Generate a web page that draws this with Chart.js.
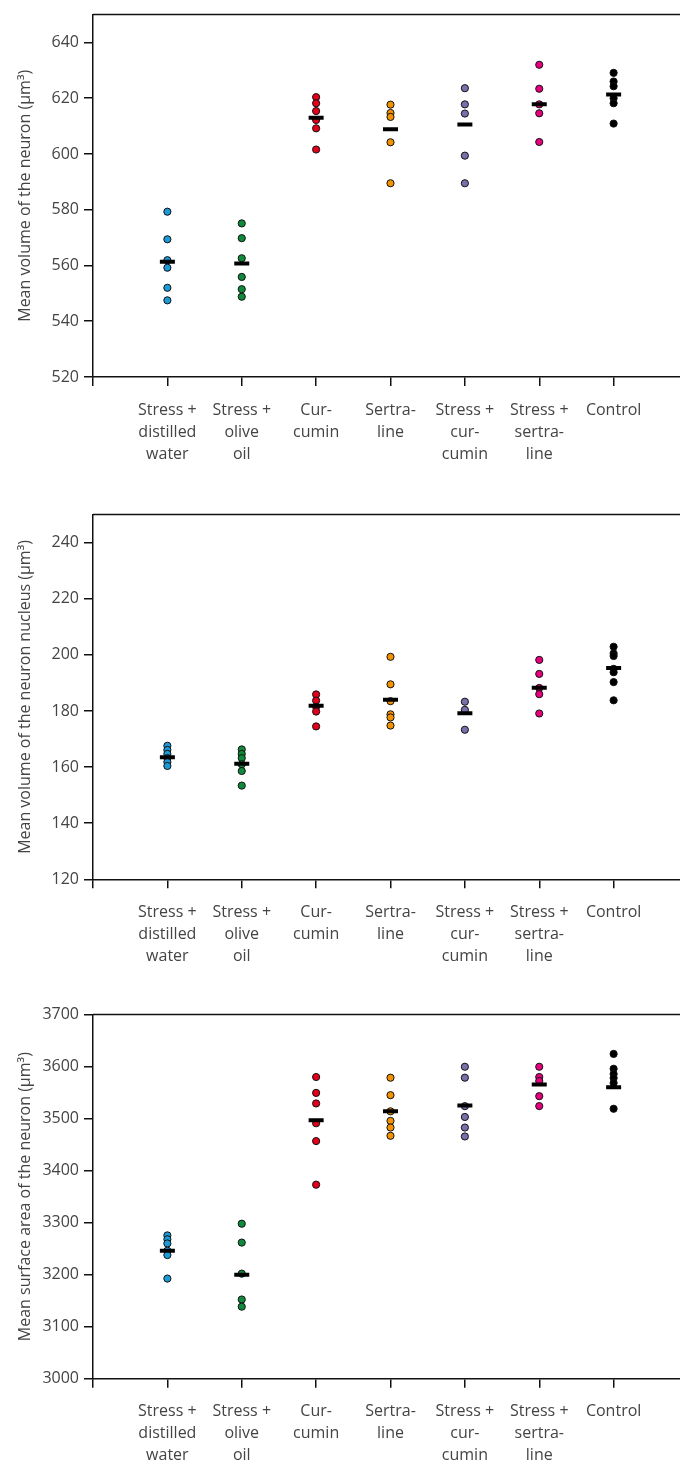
<!DOCTYPE html>
<html><head><meta charset="utf-8">
<script src="https://cdn.jsdelivr.net/npm/chart.js@4.4.1/dist/chart.umd.min.js"></script>
<style>
html,body{margin:0;padding:0;background:#fff;overflow:hidden;width:680px;height:1468px;position:relative;}
canvas{position:absolute;left:0;}
</style></head><body>
<canvas id="c1" width="700" height="500" style="top:0px"></canvas>
<canvas id="c2" width="700" height="500" style="top:500px"></canvas>
<canvas id="c3" width="700" height="500" style="top:1000px"></canvas>
<script>
// Categories (x axis labels, multi-line)
const categories = [
  ["Stress +", "distilled", "water"],
  ["Stress +", "olive", "oil"],
  ["Cur-", "cumin"],
  ["Sertra-", "line"],
  ["Stress +", "cur-", "cumin"],
  ["Stress +", "sertra-", "line"],
  ["Control"]
];
const groupColors = ["#1b9ad6", "#0f8a3a", "#e2001a", "#f39200", "#7b6fab", "#e6007e", "#000000"];

// Panel 1: Mean volume of the neuron
const volWater = [579.3, 569.4, 561.9, 559.2, 552.0, 547.5];
const volOlive = [575.1, 569.8, 562.6, 555.9, 551.5, 548.8];
const volCurcumin = [620.4, 618.2, 615.4, 612.2, 609.2, 601.6];
const volSertraline = [617.7, 614.7, 613.3, 604.2, 589.5];
const volStressCurcumin = [623.6, 617.8, 614.5, 599.4, 589.5];
const volStressSertraline = [632.0, 623.4, 617.8, 614.6, 604.3];
const volControl = [629.1, 626.0, 624.3, 620.0, 618.2, 610.9];
const volMeans = [561.3, 560.7, 613.0, 608.9, 610.6, 617.8, 621.3];
const volTicks = [520, 540, 560, 580, 600, 620, 640];

// Panel 2: Mean volume of the neuron nucleus
const nucWater = [167.6, 166.1, 164.7, 163.2, 161.8, 160.4];
const nucOlive = [166.3, 164.7, 163.2, 161.0, 158.6, 153.4];
const nucCurcumin = [185.9, 183.7, 181.5, 179.8, 174.5];
const nucSertraline = [199.3, 189.5, 183.5, 178.8, 177.7, 174.8];
const nucStressCurcumin = [183.3, 180.4, 173.3];
const nucStressSertraline = [198.2, 193.2, 188.2, 186.0, 179.1];
const nucControl = [202.9, 200.5, 199.6, 195.0, 193.8, 190.3, 183.8];
const nucMeans = [163.5, 161.2, 181.9, 184.0, 179.2, 188.3, 195.3];
const nucTicks = [120, 140, 160, 180, 200, 220, 240];

// Panel 3: Mean surface area of the neuron
const surfWater = [3275.5, 3268, 3260, 3246, 3237.7, 3192.5];
const surfOlive = [3298, 3261.7, 3202, 3152.3, 3138.5];
const surfCurcumin = [3580, 3549.5, 3529.2, 3491.1, 3456.8, 3373.0];
const surfSertraline = [3578.7, 3545.1, 3514, 3495.6, 3482.9, 3467.0];
const surfStressCurcumin = [3599.7, 3578.7, 3524, 3503.2, 3482.9, 3465.7];
const surfStressSertraline = [3599.7, 3580.0, 3572.4, 3543.2, 3524.1];
const surfControl = [3624.4, 3595.9, 3585.7, 3578.1, 3568.6, 3519.0];
const surfMeans = [3246, 3200, 3496.8, 3514.0, 3525.4, 3565.4, 3560.3];
const surfTicks = [3000, 3100, 3200, 3300, 3400, 3500, 3600, 3700];

Chart.defaults.font.family = "'Open Sans', 'Noto Sans', sans-serif";
Chart.defaults.font.size = 16;
Chart.defaults.color = '#444';

const framePlugin = {
  id: 'frame',
  beforeDatasetsDraw(chart) {
    const {ctx, chartArea: a} = chart;
    ctx.save();
    ctx.strokeStyle = '#111';
    ctx.lineWidth = 1.5;
    ctx.beginPath();
    ctx.moveTo(a.left, a.top);
    ctx.lineTo(a.right, a.top);
    ctx.lineTo(a.right, a.bottom);
    ctx.stroke();
    ctx.restore();
  }
};

function makeChart(id, groups, means, yTicks, yMax, title, padTop, xHeight) {
  const datasets = [{
    label: 'mean',
    data: means.map((v, i) => ({x: i + 1, y: v})),
    pointStyle: 'line',
    radius: 7.5,
    borderWidth: 4,
    borderColor: '#000',
    backgroundColor: '#000'
  }];
  groups.forEach((arr, i) => {
    datasets.push({
      label: categories[i].join(' '),
      data: arr.map(v => ({x: i + 1, y: v})),
      pointStyle: 'circle',
      radius: 3.6,
      borderWidth: 1,
      borderColor: '#111',
      backgroundColor: groupColors[i]
    });
  });
  new Chart(document.getElementById(id), {
    type: 'scatter',
    data: {datasets},
    options: {
      responsive: false,
      animation: false,
      devicePixelRatio: 1,
      layout: {padding: {top: padTop, left: 0, right: 12, bottom: 0}},
      plugins: {legend: {display: false}, tooltip: {enabled: false}},
      scales: {
        x: {
          type: 'linear', min: 0, max: 8,
          afterBuildTicks: s => { s.ticks = [0, 1, 2, 3, 4, 5, 6, 7].map(v => ({value: v})); },
          afterFit: s => { s.height = xHeight; },
          grid: {display: true, drawOnChartArea: false, drawTicks: true, tickLength: 9, color: '#111', lineWidth: 1.5},
          border: {display: true, color: '#111', width: 1.5},
          ticks: {
            autoSkip: false, maxRotation: 0, padding: 13,
            font: {size: 16, lineHeight: 1.375},
            callback: v => (v >= 1 && v <= 7) ? categories[v - 1] : ''
          }
        },
        y: {
          type: 'linear', min: yTicks[0], max: yMax,
          afterBuildTicks: s => { s.ticks = yTicks.map(v => ({value: v})); },
          afterFit: s => { s.width = 93; },
          grid: {display: true, drawOnChartArea: false, drawTicks: true, tickLength: 9, color: '#111', lineWidth: 1.5},
          border: {display: true, color: '#111', width: 1.5},
          ticks: {padding: 5, font: {size: 16}, callback: v => String(v)},
          title: {display: true, text: title, font: {size: 16}, padding: {top: 16, bottom: 0}}
        }
      }
    },
    plugins: [framePlugin]
  });
}

makeChart('c1',
  [volWater, volOlive, volCurcumin, volSertraline, volStressCurcumin, volStressSertraline, volControl],
  volMeans, volTicks, 650, 'Mean volume of the neuron (μm³)', 6, 123);
makeChart('c2',
  [nucWater, nucOlive, nucCurcumin, nucSertraline, nucStressCurcumin, nucStressSertraline, nucControl],
  nucMeans, nucTicks, 250, 'Mean volume of the neuron nucleus (μm³)', 6.7, 120.7);
makeChart('c3',
  [surfWater, surfOlive, surfCurcumin, surfSertraline, surfStressCurcumin, surfStressSertraline, surfControl],
  surfMeans, surfTicks, 3700, 'Mean surface area of the neuron (μm³)', 7.5, 121.3);
</script>
</body></html>
